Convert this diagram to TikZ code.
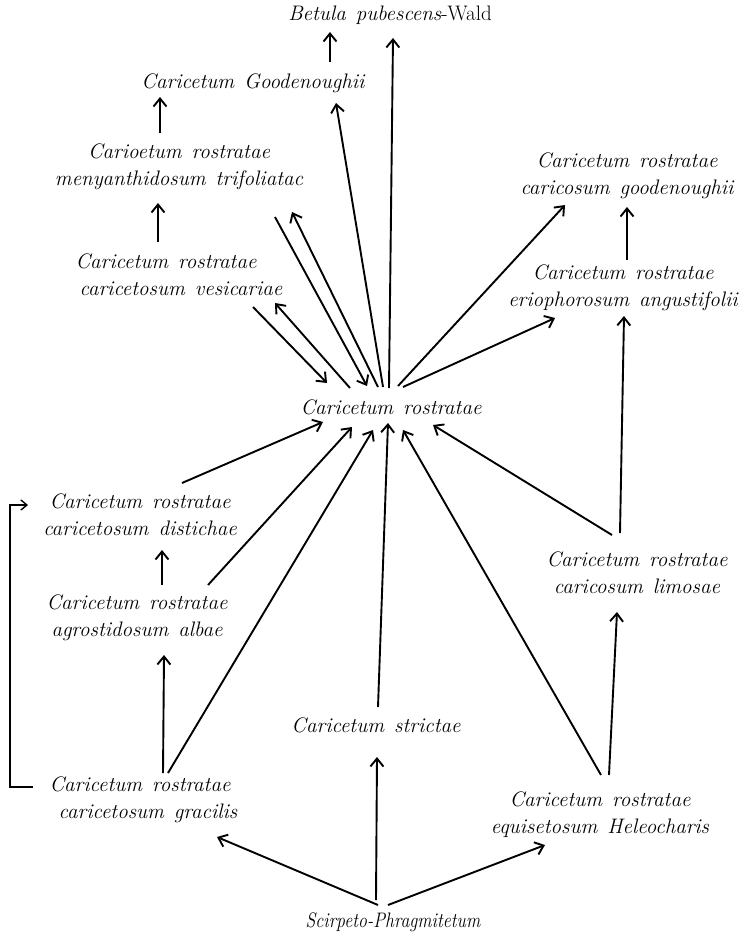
\documentclass[tikz,border=0pt]{standalone}
\usetikzlibrary{arrows.meta}
\newcommand\wordgap{\spaceskip=10pt plus 2pt\relax}

\begin{document}
\begin{tikzpicture}[x=1pt,y=-1pt,
  lbl/.style={font=\fontsize{21}{27}\selectfont\itshape\wordgap,align=center,inner sep=0pt},
  arr/.style={-{Straight Barb[length=8pt,width=13pt,line width=1.9pt]},line width=1.9pt},
  up/.style={arr,line width=2.8pt}]
\useasboundingbox (0,0) rectangle (748,943);
\node[lbl] (betula) at (390,15) {Betula pubescens\upshape-Wald};
\node[lbl] (gdn) at (253,83) {Caricetum Goodenoughii};
\node[lbl] (meny) at (179,167) {Carioetum rostratae\\menyanthidosum trifoliatac};
\node[lbl] (vesic) at (166,275) {Caricetum rostratae\\\hspace*{30pt}caricetosum vesicariae};
\node[lbl] (cgood) at (627,176) {Caricetum rostratae\\caricosum goodenoughii};
\node[lbl] (erio) at (623,288) {Caricetum rostratae\\eriophorosum angustifolii};
\node[lbl] (ctr) at (391,407) {Caricetum rostratae};
\node[lbl] (dist) at (140,515) {Caricetum rostratae\\caricetosum distichae};
\node[lbl] (alba) at (137,618) {Caricetum rostratae\\agrostidosum albae};
\node[lbl] (limo) at (637,573) {Caricetum rostratae\\caricosum limosae};
\node[lbl] (stri) at (376,725) {Caricetum strictae};
\node[lbl] (grac) at (140,800) {Caricetum rostratae\\\hspace*{16pt}caricetosum gracilis};
\node[lbl] (equi) at (600,815) {Caricetum rostratae\\equisetosum Heleocharis};
\node[lbl] (scir) at (393,922) {\scalebox{0.85}[1]{Scirpeto-Phragmitetum}};

\draw[up] ([shift={(77,-21)}]gdn.center) -- ([shift={(-60,17)}]betula.center);
\draw[arr] ([shift={(-2,-19)}]ctr.center) -- ([shift={(3,23)}]betula.center);
\draw[up] ([shift={(-19,-34)}]meny.center) -- ([shift={(-93,14)}]gdn.center);
\draw[arr] ([shift={(-8,-20)}]ctr.center) -- ([shift={(83,20)}]gdn.center);
\draw[up] ([shift={(-8,-33)}]vesic.center) -- ([shift={(-21,36)}]meny.center);
\draw[arr] ([shift={(96,50)}]meny.center) -- ([shift={(-24,-21)}]ctr.center);
\draw[arr] ([shift={(-13,-20)}]ctr.center) -- ([shift={(113,45)}]meny.center);
\draw[arr] ([shift={(87,32)}]vesic.center) -- ([shift={(-64,-24)}]ctr.center);
\draw[arr] ([shift={(-41,-19)}]ctr.center) -- ([shift={(109,28)}]vesic.center);
\draw[arr] ([shift={(7,-21)}]ctr.center) -- ([shift={(-62,29)}]cgood.center);
\draw[up] ([shift={(4,-28)}]erio.center) -- ([shift={(0,31)}]cgood.center);
\draw[arr] ([shift={(12,-20)}]ctr.center) -- ([shift={(-68,30)}]erio.center);
\draw[arr] ([shift={(-17,-40)}]limo.center) -- ([shift={(1,28)}]erio.center);
\draw[arr] ([shift={(-25,-38)}]limo.center) -- ([shift={(42,18)}]ctr.center);
\draw[arr] ([shift={(9,-40)}]equi.center) -- ([shift={(-20,39)}]limo.center);
\draw[arr] ([shift={(1,-40)}]equi.center) -- ([shift={(12,23)}]ctr.center);
\draw[arr] ([shift={(2,-18)}]stri.center) -- ([shift={(-3,16)}]ctr.center);
\draw[arr] ([shift={(23,-27)}]grac.center) -- ([shift={(27,37)}]alba.center);
\draw[arr] ([shift={(28,-27)}]grac.center) -- ([shift={(-18,23)}]ctr.center);
\draw[arr] ([shift={(71,-33)}]alba.center) -- ([shift={(-39,20)}]ctr.center);
\draw[up] ([shift={(25,-33)}]alba.center) -- ([shift={(22,35)}]dist.center);
\draw[arr] ([shift={(42,-32)}]dist.center) -- ([shift={(-68,15)}]ctr.center);
\draw[-{Straight Barb[length=6pt,width=10pt,line width=1.4pt]},line width=1.4pt]
  ([shift={(-107,-13)}]grac.center) -- ++(-23,0) |- ([shift={(-112,-10)}]dist.center);
\draw[arr] ([shift={(-15,-17)}]scir.center) -- ([shift={(77,37)}]grac.center);
\draw[arr] ([shift={(-17,-22)}]scir.center) -- ([shift={(1,32)}]stri.center);
\draw[arr] ([shift={(-5,-17)}]scir.center) -- ([shift={(-55,30)}]equi.center);
\end{tikzpicture}
\end{document}
